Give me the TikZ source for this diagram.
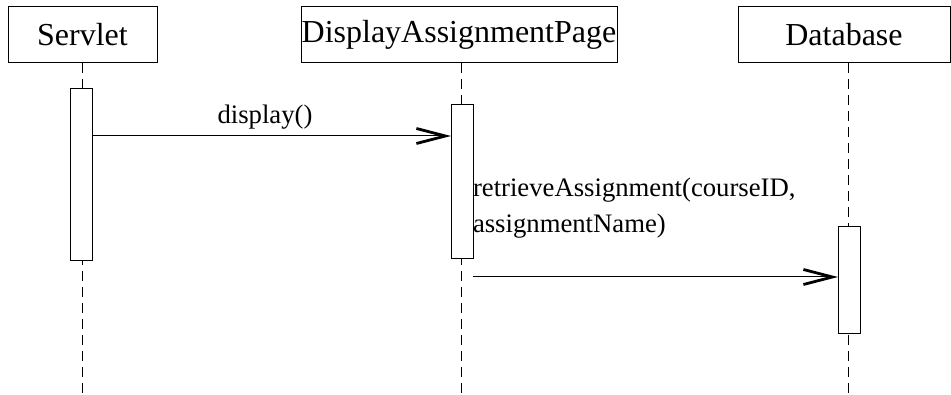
\documentclass[tikz,border=0pt]{standalone}
\usepackage{fontspec}
\setmainfont{Liberation Serif}
\usetikzlibrary{arrows.meta,calc}
\begin{document}
\begin{tikzpicture}[x=1pt,y=-1pt,
  every node/.style={inner sep=0pt, outer sep=0pt},
  objbox/.style={draw, line width=1pt, font=\fontsize{32}{38}\selectfont, minimum height=56pt, anchor=north west},
  actbar/.style={draw, fill=white, line width=1pt, minimum width=22pt, anchor=north west},
  lifeline/.style={line width=0.9pt, dash pattern=on 10pt off 6pt},
  msg/.style={line width=1pt, -{Straight Barb[length=29pt, width=15pt, line width=2.8pt]}},
  msglabel/.style={font=\fontsize{26.7}{36}\selectfont, align=left}
]
\useasboundingbox (0,0) rectangle (951,395);

% object heads
\node[objbox, minimum width=149pt] (servlet) at (8,7) {Servlet};
\node[objbox, minimum width=316pt] (page) at (301,7) {DisplayAssignmentPage};
\node[objbox, minimum width=212pt] (db) at (738,7) {Database};

% lifelines
\coordinate (servletTop) at (82,63);
\coordinate (servletEnd) at (82,395);
\coordinate (pageTop) at (461,63);
\coordinate (pageEnd) at (461,395);
\coordinate (dbTop) at (848,63);
\coordinate (dbEnd) at (848,395);
\draw[lifeline] (servletTop) -- (servletEnd);
\draw[lifeline] (pageTop) -- (pageEnd);
\draw[lifeline] (dbTop) -- (dbEnd);

% activation bars
\node[actbar, minimum height=172pt] (sact) at (70,89) {};
\node[actbar, minimum height=154pt] (pact) at (451,105) {};
\node[actbar, minimum height=107pt] (dact) at (838,227) {};

% messages
\coordinate (m1a) at (sact.east |- 0,136);
\coordinate (m1b) at (pact.west |- 0,136);
\draw[msg] (m1a) -- (m1b);
\node[msglabel, anchor=base] (l1) at (265,124) {display()};

\coordinate (m2a) at (pact.east |- 0,277);
\coordinate (m2b) at (dact.west |- 0,277);
\draw[msg] (m2a) -- (m2b);
\node[msglabel, anchor=base west] (l2) at (473,197) {retrieveAssignment(courseID,};
\node[msglabel, anchor=base west] (l3) at (473,233) {assignmentName)};
\end{tikzpicture}
\end{document}
